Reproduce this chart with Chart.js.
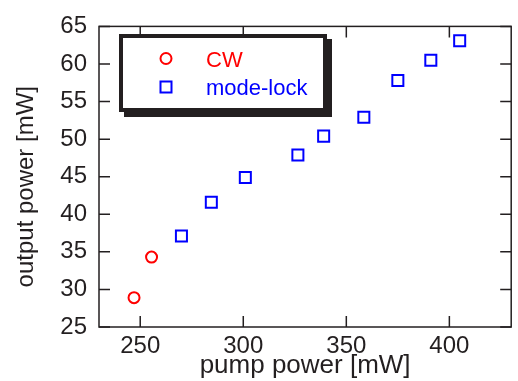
<!DOCTYPE html>
<html>
<head>
<meta charset="utf-8">
<script src="https://cdn.jsdelivr.net/npm/chart.js@4.4.1/dist/chart.umd.min.js"></script>
<style>
  html, body { margin: 0; padding: 0; background: #fff; overflow: hidden; }
  #wrap { position: relative; width: 521px; height: 381px; }
</style>
</head>
<body>
<div id="wrap"><canvas id="chart"></canvas></div>
<script>
// datos
const cwPump = [247, 255.5];
const cwOut = [28.9, 34.3];
const mlPump = [270, 284.5, 301, 326.5, 339, 358.5, 375, 391, 405];
const mlOut = [37.1, 41.6, 44.9, 47.9, 50.4, 52.9, 57.8, 60.5, 63.1];
const xTicks = [250, 300, 350, 400];
const yTicks = [25, 30, 35, 40, 45, 50, 55, 60, 65];
const seriesNames = ['CW', 'mode-lock'];

const ink = '#231f20';
const font = 'Liberation Sans, Arial, Helvetica, sans-serif';

const toPoints = (xs, ys) => xs.map((x, i) => ({ x: x, y: ys[i] }));

// marco con marcas hacia adentro en los cuatro lados
const framePlugin = {
    id: 'frame',
    beforeDatasetsDraw(chart) {
        const ctx = chart.ctx;
        const a = chart.chartArea;
        const xs = chart.scales.x;
        const ys = chart.scales.y;
        const len = 11;
        ctx.save();
        ctx.strokeStyle = ink;
        ctx.lineWidth = 1.5;
        ctx.strokeRect(a.left, a.top, a.right - a.left, a.bottom - a.top);
        ctx.beginPath();
        xTicks.forEach(v => {
            const px = xs.getPixelForValue(v);
            ctx.moveTo(px, a.bottom); ctx.lineTo(px, a.bottom - len);
            ctx.moveTo(px, a.top); ctx.lineTo(px, a.top + len);
        });
        yTicks.forEach(v => {
            const py = ys.getPixelForValue(v);
            ctx.moveTo(a.left, py); ctx.lineTo(a.left + len, py);
            ctx.moveTo(a.right, py); ctx.lineTo(a.right - len, py);
        });
        ctx.stroke();
        ctx.restore();
    },
    afterDatasetsDraw(chart) {
        // leyenda con sombra
        const ctx = chart.ctx;
        const bx = 119, by = 34, bw = 208, bh = 78;
        ctx.save();
        ctx.fillStyle = ink;
        ctx.fillRect(bx + 5, by + 5, bw, bh);
        ctx.fillRect(bx, by, bw, bh);
        ctx.fillStyle = '#fff';
        ctx.fillRect(bx + 4, by + 4, bw - 8, bh - 8);

        const ds = chart.data.datasets;
        ctx.lineWidth = 2;
        ctx.strokeStyle = ds[0].borderColor;
        ctx.beginPath();
        ctx.arc(166, 58.5, 5.5, 0, Math.PI * 2);
        ctx.stroke();
        ctx.strokeStyle = ds[1].borderColor;
        ctx.strokeRect(160.5, 81.5, 11, 11);

        ctx.font = '22px ' + font;
        ctx.textBaseline = 'alphabetic';
        ctx.textAlign = 'left';
        ctx.fillStyle = ds[0].borderColor;
        ctx.fillText(seriesNames[0], 206, 66.5);
        ctx.fillStyle = ds[1].borderColor;
        ctx.fillText(seriesNames[1], 206, 95);
        ctx.restore();
    }
};

new Chart(document.getElementById('chart'), {
    type: 'scatter',
    data: {
        datasets: [{
            label: seriesNames[0],
            data: toPoints(cwPump, cwOut),
            pointStyle: 'circle',
            pointRadius: 5.5,
            pointHoverRadius: 5.5,
            borderWidth: 2,
            borderColor: '#ff0000',
            backgroundColor: 'rgba(0,0,0,0)'
        }, {
            label: seriesNames[1],
            data: toPoints(mlPump, mlOut),
            pointStyle: 'rect',
            pointRadius: 7.8,
            pointHoverRadius: 7.8,
            borderWidth: 2,
            borderColor: '#0000ff',
            backgroundColor: 'rgba(0,0,0,0)'
        }]
    },
    options: {
        responsive: true,
        maintainAspectRatio: false,
        animation: false,
        events: [],
        layout: { padding: { left: 0, top: 25, right: 1, bottom: 0 } },
        plugins: {
            legend: { display: false },
            tooltip: { enabled: false }
        },
        scales: {
            x: {
                type: 'linear',
                min: 230,
                max: 430,
                afterBuildTicks: s => { s.ticks = xTicks.map(v => ({ value: v })); },
                afterFit: s => { s.height = 54; },
                grid: { display: false, drawTicks: false },
                border: { display: false },
                ticks: {
                    padding: 5,
                    color: ink,
                    font: { family: font, size: 24 }
                },
                title: {
                    display: true,
                    text: 'pump power [mW]',
                    color: ink,
                    padding: { top: 0, bottom: 0 },
                    font: { family: font, size: 26 }
                }
            },
            y: {
                type: 'linear',
                min: 25,
                max: 65,
                afterBuildTicks: s => { s.ticks = yTicks.map(v => ({ value: v })); },
                afterFit: s => { s.width = 99; },
                grid: { display: false, drawTicks: false },
                border: { display: false },
                ticks: {
                    padding: 12,
                    color: ink,
                    font: { family: font, size: 24 }
                },
                title: {
                    display: true,
                    text: 'output power [mW]   ',
                    color: ink,
                    padding: { top: 12, bottom: 0 },
                    font: { family: font, size: 24 }
                }
            }
        }
    },
    plugins: [framePlugin]
});
</script>
</body>
</html>
